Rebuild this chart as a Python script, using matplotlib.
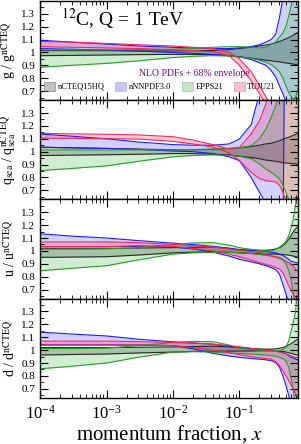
import numpy as np
import matplotlib
matplotlib.use("Agg")
import matplotlib.pyplot as plt
from matplotlib.patches import Patch
from matplotlib.ticker import MultipleLocator, LogLocator, NullFormatter

plt.rcParams['font.family'] = 'serif'
plt.rcParams['font.serif'] = ['Liberation Serif', 'DejaVu Serif']
plt.rcParams['mathtext.fontset'] = 'stix'

# momentum fraction nodes
x = [1e-4, 3e-4, 1e-3, 3e-3, 1e-2, 2e-2, 4e-2, 7e-2, 0.1, 0.15, 0.2, 0.25,
     0.3, 0.35, 0.4, 0.45, 0.5, 0.55, 0.6, 0.65, 0.7, 0.76]

# gluon
g_ncteq_lo = [0.975, 0.977, 0.980, 0.983, 0.985, 0.985, 0.982, 0.975, 0.966, 0.955, 0.946, 0.940, 0.935, 0.930, 0.926, 0.922, 0.918, 0.915, 0.912, 0.909, 0.906, 0.903]
g_ncteq_hi = [1.015, 1.014, 1.013, 1.012, 1.012, 1.013, 1.016, 1.022, 1.030, 1.040, 1.050, 1.058, 1.065, 1.075, 1.085, 1.095, 1.105, 1.115, 1.125, 1.135, 1.145, 1.155]
g_nnnpdf_lo = [1.030, 1.025, 1.018, 1.010, 1.000, 0.993, 0.985, 0.975, 0.965, 0.945, 0.920, 0.900, 0.860, 0.810, 0.740, 0.680, 0.620, 0.560, 0.500, 0.450, 0.400, 0.350]
g_nnnpdf_hi = [1.095, 1.080, 1.065, 1.050, 1.040, 1.035, 1.030, 1.030, 1.035, 1.045, 1.060, 1.080, 1.100, 1.140, 1.270, 1.420, 1.600, 1.800, 2.000, 2.200, 2.400, 2.600]
g_epps_lo = [0.885, 0.900, 0.915, 0.935, 0.960, 0.970, 0.975, 0.972, 0.965, 0.955, 0.940, 0.925, 0.905, 0.880, 0.850, 0.800, 0.740, 0.690, 0.655, 0.640, 0.655, 0.720]
g_epps_hi = [1.020, 1.020, 1.020, 1.022, 1.025, 1.030, 1.040, 1.045, 1.045, 1.040, 1.035, 1.040, 1.060, 1.080, 1.120, 1.150, 1.200, 1.280, 1.360, 1.500, 1.700, 1.900]
g_tuju_lo = [1.045, 1.040, 1.035, 1.030, 1.020, 1.015, 1.005, 0.975, 0.900, 0.780, 0.680, 0.600, 0.530, 0.480, 0.440, 0.410, 0.390, 0.370, 0.350, 0.330, 0.310, 0.300]
g_tuju_hi = [1.085, 1.080, 1.070, 1.060, 1.050, 1.040, 1.030, 1.000, 0.950, 0.850, 0.745, 0.655, 0.580, 0.520, 0.480, 0.450, 0.430, 0.410, 0.390, 0.370, 0.350, 0.340]

# sea quarks
s_ncteq_lo = [0.970, 0.973, 0.976, 0.980, 0.985, 0.985, 0.980, 0.975, 0.965, 0.955, 0.945, 0.935, 0.930, 0.925, 0.920, 0.915, 0.912, 0.910, 0.908, 0.906, 0.905, 0.903]
s_ncteq_hi = [1.035, 1.030, 1.025, 1.020, 1.015, 1.015, 1.018, 1.025, 1.030, 1.040, 1.050, 1.060, 1.065, 1.075, 1.085, 1.095, 1.105, 1.112, 1.120, 1.127, 1.133, 1.140]
s_nnnpdf_lo = [1.034, 1.030, 1.025, 1.018, 1.005, 1.000, 0.985, 0.960, 0.930, 0.800, 0.685, 0.600, 0.500, 0.400, 0.300, 0.200, 3.000, 3.000, 3.000, 3.000, 3.000, 3.000]
s_nnnpdf_hi = [1.137, 1.120, 1.100, 1.075, 1.055, 1.050, 1.050, 1.060, 1.098, 1.210, 1.450, 1.800, 2.200, 2.600, 3.000, 3.200, 3.400, 3.500, 3.500, 3.500, 3.500, 3.500]
s_epps_lo = [0.853, 0.870, 0.890, 0.925, 0.960, 0.970, 0.975, 0.970, 0.965, 0.945, 0.905, 0.866, 0.840, 0.815, 0.790, 0.740, 0.685, 0.630, 0.580, 0.530, 0.480, 0.430]
s_epps_hi = [1.013, 1.013, 1.013, 1.014, 1.015, 1.017, 1.020, 1.025, 1.030, 1.046, 1.100, 1.175, 1.265, 1.355, 1.450, 1.550, 1.650, 1.750, 1.850, 1.950, 2.050, 2.150]
s_tuju_lo = [1.105, 1.103, 1.100, 1.098, 1.080, 1.060, 1.035, 0.990, 0.930, 0.840, 0.790, 0.776, 0.770, 0.765, 0.740, 0.685, 0.620, 0.550, 0.500, 0.450, 0.400, 0.350]
s_tuju_hi = [1.142, 1.138, 1.135, 1.130, 1.116, 1.090, 1.055, 1.020, 1.034, 1.137, 1.240, 1.370, 1.500, 1.600, 1.700, 1.800, 1.900, 2.000, 2.100, 2.200, 2.300, 2.400]

# up
u_ncteq_lo = [0.950, 0.952, 0.955, 0.968, 0.985, 0.990, 0.992, 0.990, 0.985, 0.980, 0.977, 0.975, 0.975, 0.975, 0.975, 0.972, 0.970, 0.967, 0.963, 0.960, 0.955, 0.950]
u_ncteq_hi = [1.020, 1.020, 1.020, 1.022, 1.025, 1.028, 1.030, 1.020, 1.008, 1.005, 1.005, 1.005, 1.008, 1.015, 1.025, 1.040, 1.060, 1.090, 1.120, 1.150, 1.170, 1.190]
u_nnnpdf_lo = [1.033, 1.033, 1.033, 1.035, 1.030, 1.015, 0.990, 0.960, 0.935, 0.915, 0.900, 0.885, 0.870, 0.855, 0.820, 0.740, 0.667, 0.600, 0.540, 0.480, 0.420, 0.360]
u_nnnpdf_hi = [1.133, 1.115, 1.100, 1.080, 1.060, 1.050, 1.035, 1.020, 1.010, 1.003, 1.000, 0.995, 0.990, 0.985, 0.975, 0.965, 0.950, 0.935, 0.920, 0.915, 0.910, 0.905]
u_epps_lo = [0.846, 0.865, 0.885, 0.930, 0.975, 0.985, 0.988, 0.988, 0.987, 0.980, 0.972, 0.965, 0.960, 0.950, 0.940, 0.930, 0.900, 0.850, 0.770, 0.660, 0.550, 0.450]
u_epps_hi = [1.013, 1.013, 1.015, 1.026, 1.050, 1.062, 1.064, 1.045, 1.025, 1.012, 1.005, 1.000, 1.000, 1.010, 1.030, 1.050, 1.077, 1.115, 1.180, 1.256, 1.360, 1.600]
u_tuju_lo = [1.033, 1.033, 1.033, 1.040, 1.035, 1.020, 1.000, 0.975, 0.955, 0.930, 0.910, 0.895, 0.885, 0.870, 0.860, 0.830, 0.780, 0.730, 0.690, 0.667, 0.615, 0.580]
u_tuju_hi = [1.070, 1.070, 1.070, 1.064, 1.050, 1.040, 1.030, 1.015, 1.005, 0.995, 0.987, 0.975, 0.960, 0.955, 0.950, 0.935, 0.920, 0.910, 0.900, 0.880, 0.860, 0.840]

# down
d_ncteq_lo = [0.962, 0.966, 0.970, 0.978, 0.985, 0.990, 0.992, 0.993, 0.993, 0.994, 0.995, 0.995, 0.995, 0.994, 0.992, 0.990, 0.985, 0.980, 0.975, 0.970, 0.965, 0.960]
d_ncteq_hi = [1.020, 1.020, 1.020, 1.022, 1.025, 1.028, 1.030, 1.025, 1.018, 1.012, 1.010, 1.008, 1.008, 1.010, 1.015, 1.020, 1.030, 1.040, 1.050, 1.062, 1.075, 1.085]
d_nnnpdf_lo = [1.040, 1.040, 1.040, 1.040, 1.035, 1.010, 0.975, 0.955, 0.944, 0.935, 0.930, 0.925, 0.918, 0.905, 0.867, 0.800, 0.727, 0.650, 0.580, 0.520, 0.460, 0.400]
d_nnnpdf_hi = [1.140, 1.125, 1.110, 1.085, 1.064, 1.055, 1.046, 1.030, 1.020, 1.012, 1.005, 1.002, 1.000, 0.995, 0.990, 0.982, 0.970, 0.958, 0.944, 0.937, 0.930, 0.925]
d_epps_lo = [0.855, 0.875, 0.900, 0.945, 0.985, 0.988, 0.985, 0.978, 0.975, 0.970, 0.965, 0.962, 0.957, 0.952, 0.945, 0.935, 0.915, 0.870, 0.780, 0.680, 0.550, 0.450]
d_epps_hi = [1.013, 1.012, 1.015, 1.035, 1.059, 1.068, 1.065, 1.040, 1.015, 1.005, 1.000, 0.997, 0.995, 0.995, 0.998, 1.005, 1.020, 1.070, 1.150, 1.220, 1.300, 1.600]
d_tuju_lo = [1.040, 1.040, 1.040, 1.040, 1.035, 1.020, 1.000, 0.980, 0.964, 0.950, 0.940, 0.935, 0.930, 0.910, 0.880, 0.840, 0.800, 0.765, 0.727, 0.700, 0.660, 0.640]
d_tuju_hi = [1.070, 1.070, 1.070, 1.066, 1.060, 1.055, 1.046, 1.035, 1.026, 1.015, 1.008, 1.000, 0.995, 0.990, 0.985, 0.978, 0.970, 0.963, 0.957, 0.950, 0.944, 0.940]

sets = ['nCTEQ15HQ', 'nNNPDF3.0', 'EPPS21', 'TUJU21']
face = ['0.45', '#0000ff', '#11aa11', '#ff1a5a']
alpha = [0.38, 0.18, 0.2, 0.22]
edge = ['0.15', '#1a1aff', '#22a022', '#ff2255']

panels = [
    ('g / g$^{\\rm nCTEQ}$', [(g_ncteq_lo, g_ncteq_hi), (g_nnnpdf_lo, g_nnnpdf_hi), (g_epps_lo, g_epps_hi), (g_tuju_lo, g_tuju_hi)]),
    ('q$_{\\rm sea}$ / q$_{\\rm sea}^{\\rm nCTEQ}$', [(s_ncteq_lo, s_ncteq_hi), (s_nnnpdf_lo, s_nnnpdf_hi), (s_epps_lo, s_epps_hi), (s_tuju_lo, s_tuju_hi)]),
    ('u / u$^{\\rm nCTEQ}$', [(u_ncteq_lo, u_ncteq_hi), (u_nnnpdf_lo, u_nnnpdf_hi), (u_epps_lo, u_epps_hi), (u_tuju_lo, u_tuju_hi)]),
    ('d / d$^{\\rm nCTEQ}$', [(d_ncteq_lo, d_ncteq_hi), (d_nnnpdf_lo, d_nnnpdf_hi), (d_epps_lo, d_epps_hi), (d_tuju_lo, d_tuju_hi)]),
]

fig = plt.figure(figsize=(3.01, 4.44), dpi=100)
axes = fig.subplots(4, 1, sharex=True)
fig.subplots_adjust(left=0.133, right=0.99, top=0.998, bottom=0.104, hspace=0)

yt = [0.7, 0.8, 0.9, 1.0, 1.1, 1.2, 1.3]
for ax, (lab, bands) in zip(axes, panels):
    for i, (lo, hi) in enumerate(bands):
        ax.fill_between(x, lo, hi, color=face[i], alpha=alpha[i], lw=0)
    for i, (lo, hi) in enumerate(bands):
        ax.plot(x, lo, color=edge[i], lw=0.8)
        ax.plot(x, hi, color=edge[i], lw=0.8)
    ax.set_xscale('log')
    ax.set_xlim(1e-4, 0.76)
    ax.set_ylim(0.63, 1.40)
    ax.set_yticks(yt, labels=['0.7', '0.8', '0.9', '1', '1.1', '1.2', '1.3'])
    ax.yaxis.set_minor_locator(MultipleLocator(0.05))
    ax.xaxis.set_major_locator(LogLocator(base=10, numticks=10))
    ax.xaxis.set_minor_locator(LogLocator(base=10, subs=np.arange(2, 10), numticks=10))
    ax.xaxis.set_minor_formatter(NullFormatter())
    ax.tick_params(which='both', direction='in', top=True, right=True, labelsize=8)
    ax.tick_params(which='major', length=6, width=0.8)
    ax.tick_params(which='minor', length=3, width=0.6)
    ax.tick_params(axis='x', labelsize=12, pad=5)
    ax.set_ylabel(lab, fontsize=10, labelpad=2)
    for s in ax.spines.values():
        s.set_linewidth(1.0)

ax0 = axes[0]
ax0.text(0.08, 0.82, '$^{12}$C, Q = 1 TeV', transform=ax0.transAxes, fontsize=14,
         ha='left', va='center')
ax0.text(0.60, 0.27, 'NLO PDFs + 68% envelope', transform=ax0.transAxes, fontsize=7,
         color='purple', ha='center', va='center')
handles = [Patch(facecolor=face[i], alpha=alpha[i] + 0.05, edgecolor='0.35', lw=0.8) for i in range(4)]
ax0.legend(handles, sets, ncol=4, loc='center', bbox_to_anchor=(0.465, 0.14), frameon=False,
           fontsize=6, handlelength=1.3, handleheight=1.3, columnspacing=1.3, handletextpad=0.3,
           borderaxespad=0, borderpad=0)

axes[-1].set_xlabel('momentum fraction, $x$', fontsize=15, labelpad=0)

fig.savefig('out.png', dpi=100)
